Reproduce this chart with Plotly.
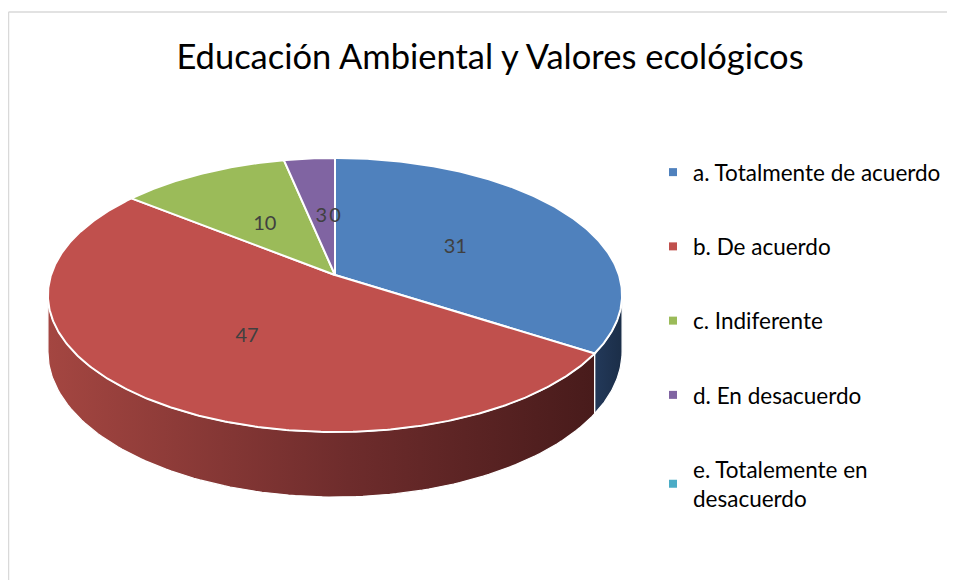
import numpy as np
import plotly.graph_objects as go

# ---------------- data ----------------
categories = ["a. Totalmente de acuerdo", "b. De acuerdo", "c. Indiferente",
              "d. En desacuerdo", "e. Totalemente en desacuerdo"]
legend_labels = ["a. Totalmente de acuerdo", "b. De acuerdo", "c. Indiferente",
                 "d. En desacuerdo", "e. Totalemente en<br>desacuerdo"]
values = [31, 47, 10, 3, 0]
title_text = "Educación Ambiental y Valores ecológicos"

# ---------------- style ----------------
top_colors = ["#4F81BD", "#C0504D", "#9BBB59", "#8064A2", "#4BACC6"]
side_scales = [
    [[0, "#23395A"], [1, "#1B2E48"]],
    [[0, "#A44641"], [0.55, "#6E2C2C"], [1, "#481B1B"]],
    [[0, "#7A9446"], [1, "#4F602D"]],
    [[0, "#65507F"], [1, "#403352"]],
    [[0, "#3B889C"], [1, "#265864"]],
]
FONT = "Lato"
W, Hfig = 955, 580
OFF = 8  # page body margin: axis data coordinates equal page pixels

# perspective pie geometry (page pixel space)
CX, CY = 335.0, 275.0
R, HV, C, DEPTH = 284.0, 134.1, 0.146, 55.5


def px(x):
    return (x - OFF) / W


def py(y):
    return 1 - (y - OFF) / Hfig


def proj(theta_deg, f=1.0, depth=0.0):
    t = np.radians(theta_deg)
    u, v = f * np.cos(t), f * np.sin(t)
    w = 1 + C * v
    return CX + R * u / w, CY - HV * v / w + depth / w


total = float(sum(values))
bounds = []
cum = 0.0
for v in values:
    start = 90 - 360 * cum / total
    cum += v
    end = 90 - 360 * cum / total
    bounds.append((start, end))

fig = go.Figure()

# ---- sides (front visible part) ----
sil = np.degrees(np.arcsin(C))
vis_ranges = [(-sil, -180 + sil), (-sil - 360, -180 + sil - 360)]
for i, (s, e) in enumerate(bounds):
    if values[i] <= 0:
        continue
    for hi, lo in vis_ranges:
        a = min(s, hi)
        b = max(e, lo)
        if a <= b:
            continue
        th = np.linspace(a, b, 120)
        xt, yt = proj(th)
        xb, yb = proj(th[::-1], depth=DEPTH)
        xs = np.concatenate([xt, xb, xt[:1]])
        ys = np.concatenate([yt, yb, yt[:1]])
        fig.add_trace(go.Scatter(
            x=xs, y=ys, mode="lines", fill="toself",
            fillgradient=dict(type="horizontal", colorscale=side_scales[i]),
            line=dict(color="white", width=1.2),
            hoverinfo="skip", showlegend=False))

# ---- top faces ----
for i, (s, e) in enumerate(bounds):
    if values[i] <= 0:
        continue
    th = np.linspace(s, e, max(int(abs(s - e) * 2), 4))
    xa, ya = proj(th)
    xs = np.concatenate([[CX], xa, [CX]])
    ys = np.concatenate([[CY], ya, [CY]])
    fig.add_trace(go.Scatter(
        x=xs, y=ys, mode="lines", fill="toself", fillcolor=top_colors[i],
        line=dict(color="white", width=2),
        hoverinfo="text", text=f"{categories[i]}: {values[i]}",
        showlegend=False))

# ---- data labels ----
lx, ly = [], []
for s, e in bounds:
    x, y = proj((s + e) / 2, f=0.5)
    lx.append(x)
    ly.append(y + 4)
fig.add_trace(go.Scatter(
    x=lx, y=ly, mode="text", text=[str(v) for v in values],
    textfont=dict(family=FONT, size=20, color="#404040"),
    hoverinfo="skip", showlegend=False))

# ---- legend entries ----
for i, name in enumerate(legend_labels):
    fig.add_trace(go.Scatter(
        x=[None], y=[None], mode="markers", name=name,
        legendgroup=f"g{i}",
        marker=dict(symbol="square", size=8, color=top_colors[i]),
        hoverinfo="skip"))

fig.update_layout(
    width=W, height=Hfig,
    margin=dict(l=0, r=0, t=0, b=0),
    paper_bgcolor="white", plot_bgcolor="white",
    title=dict(text=title_text, x=px(490), y=py(57),
               xanchor="center", yanchor="middle",
               font=dict(family=FONT, size=34.5, color="#000000")),
    xaxis=dict(range=[OFF, OFF + W], visible=False, fixedrange=True),
    yaxis=dict(range=[OFF + Hfig, OFF], visible=False, fixedrange=True),
    showlegend=True,
    legend=dict(x=px(653), y=py(151), xanchor="left", yanchor="top",
                font=dict(family=FONT, size=22.5, color="#000000"),
                traceorder="grouped", tracegroupgap=42,
                bgcolor="rgba(0,0,0,0)", itemclick=False, itemdoubleclick=False),
    shapes=[
        dict(type="line", xref="x", yref="y", x0=8.5, y0=12, x1=OFF + W, y1=12,
             line=dict(color="#D9D9D9", width=1.5)),
        dict(type="line", xref="x", yref="y", x0=8.5, y0=12, x1=8.5, y1=OFF + Hfig,
             line=dict(color="#D9D9D9", width=1.5)),
    ],
)

fig.write_html("out.html")
